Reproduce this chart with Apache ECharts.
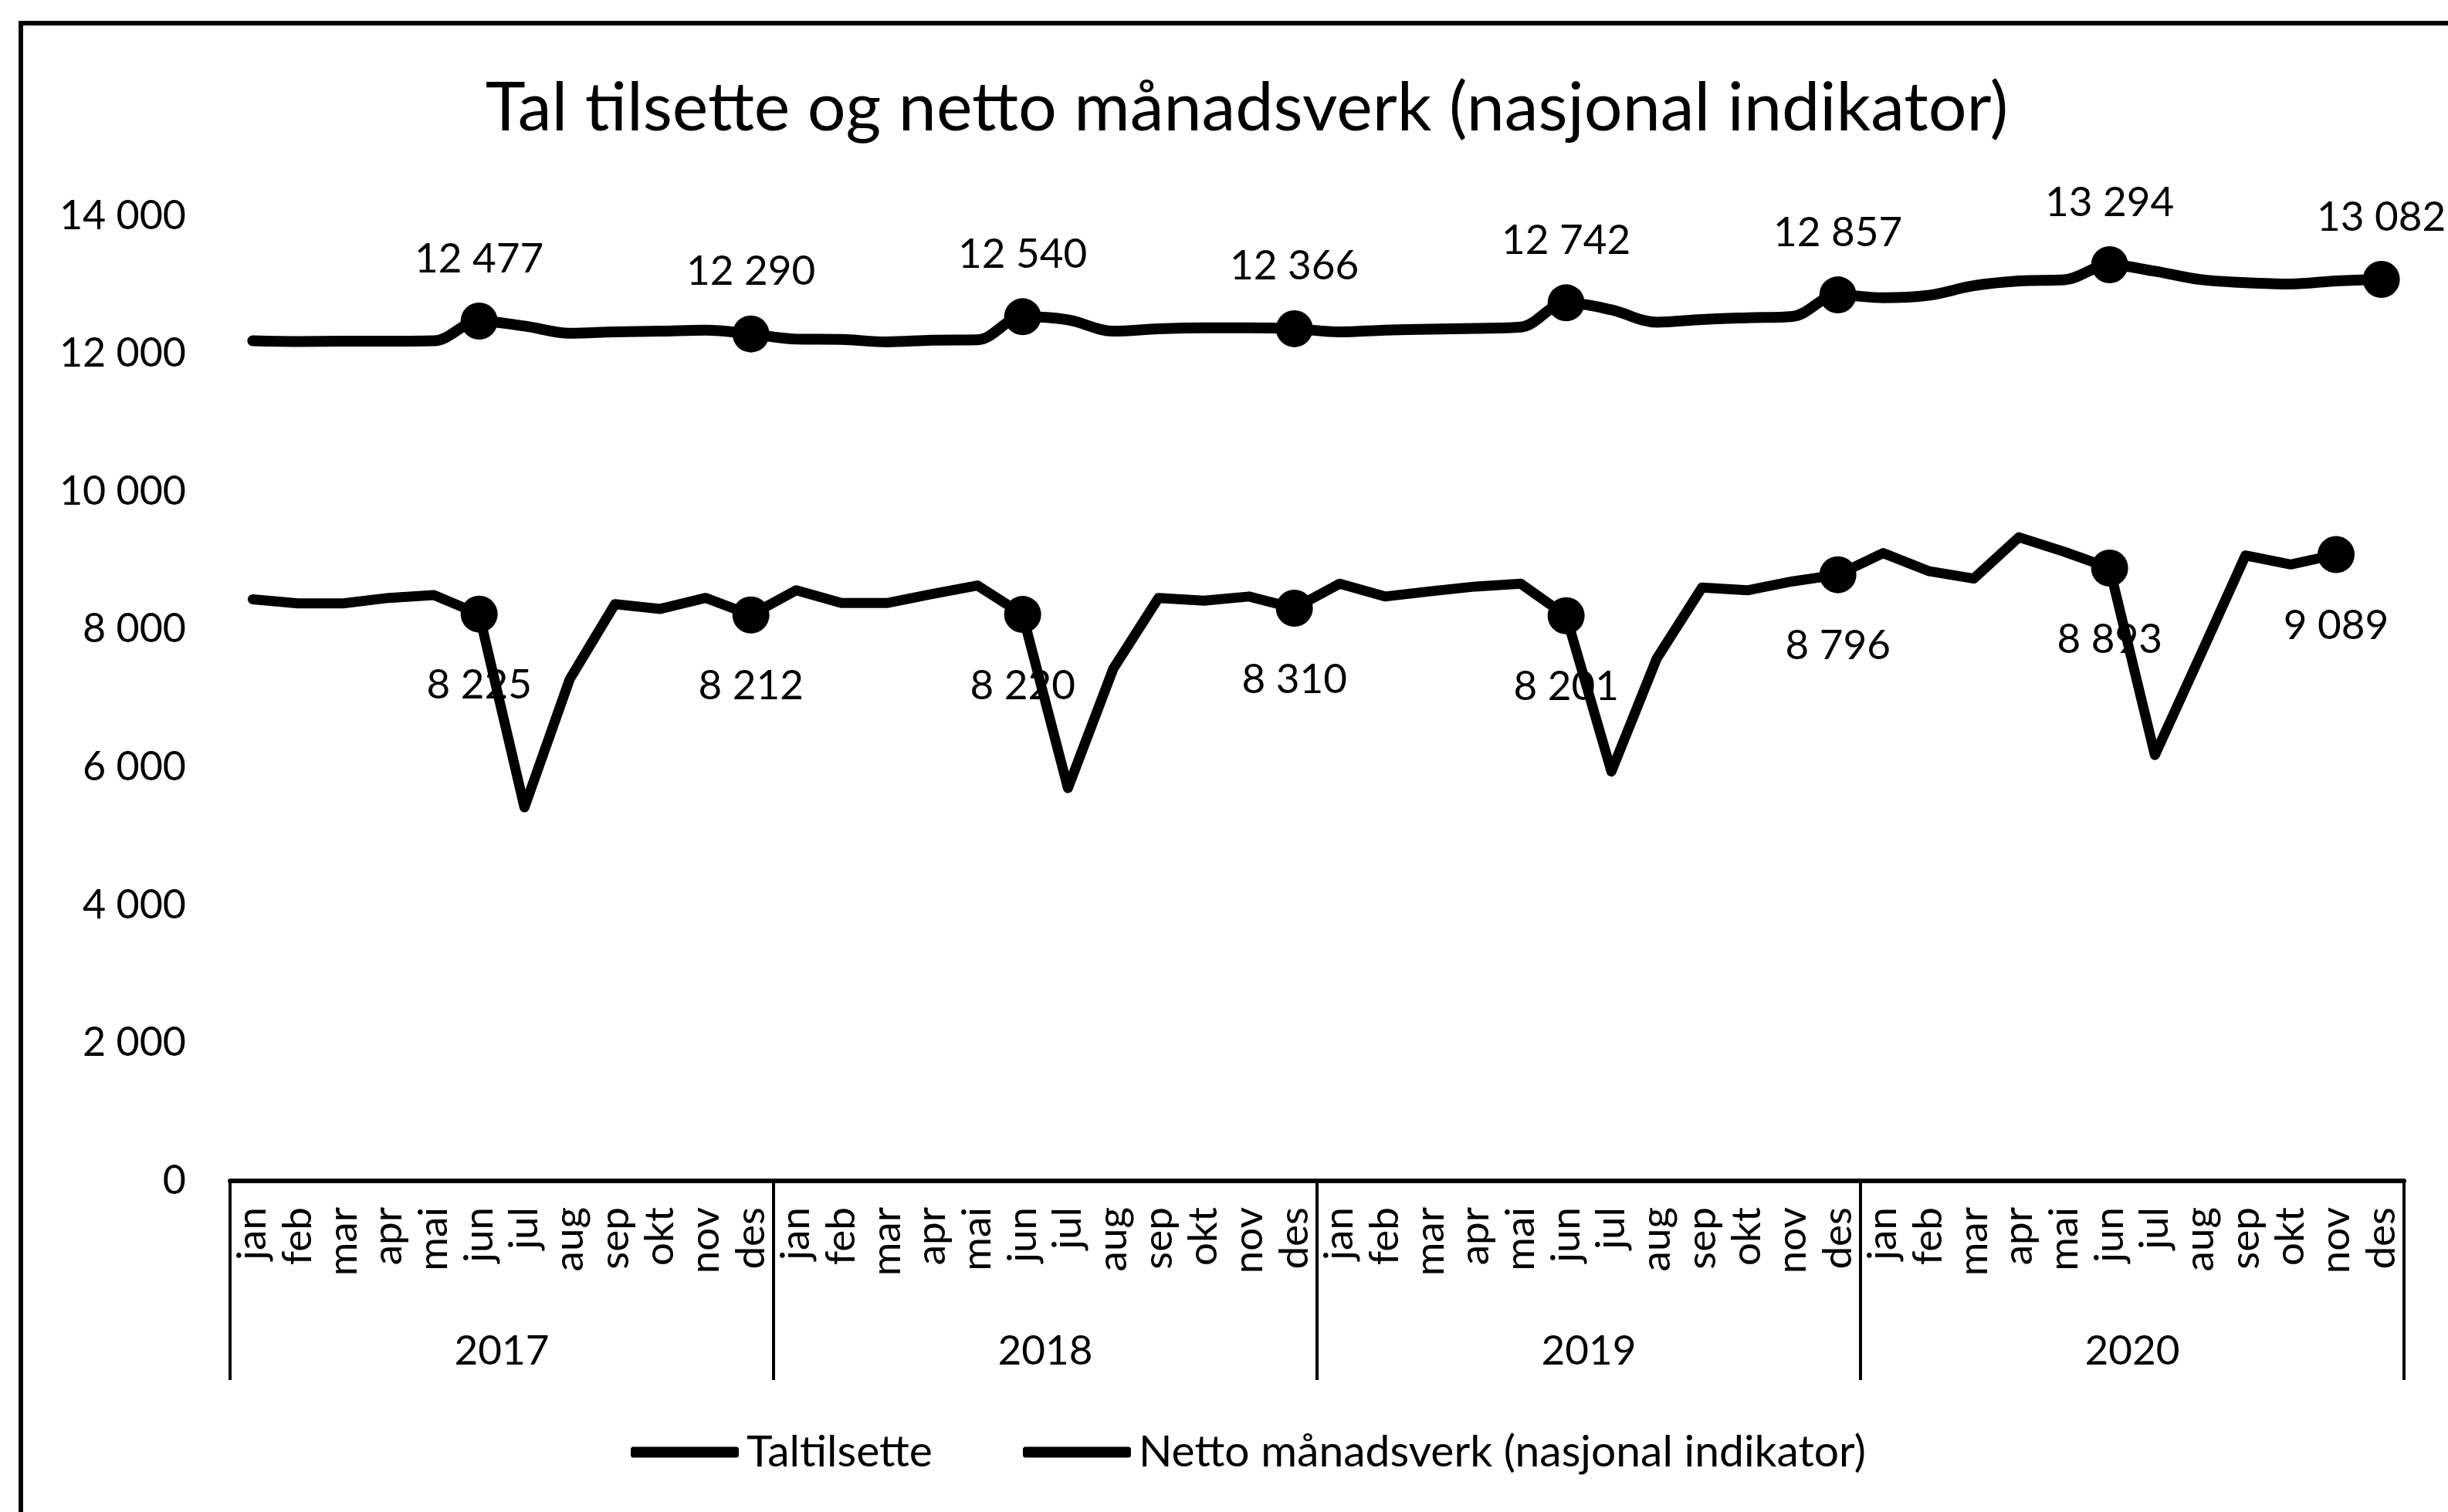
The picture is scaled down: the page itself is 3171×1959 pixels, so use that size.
<!DOCTYPE html>
<html>
<head>
<meta charset="utf-8">
<title>Tal tilsette og netto månadsverk</title>
<script src="https://cdn.jsdelivr.net/npm/echarts@6/dist/echarts.min.js"></script>
<style>
    html, body { margin: 0; padding: 0; background: #fff; }
    #chart { width: 3171px; height: 1959px; }
</style>
</head>
<body>
<div id="chart"></div>
<script>
// Data
const months = ['jan', 'feb', 'mar', 'apr', 'mai', 'jun', 'jul', 'aug', 'sep', 'okt', 'nov', 'des'];
const years = ['2017', '2018', '2019', '2020'];

const taltilsette = [
    12190, 12180, 12185, 12185, 12190, 12477, 12405, 12300, 12320, 12330, 12345, 12290,
    12215, 12210, 12175, 12200, 12205, 12540, 12495, 12330, 12365, 12380, 12380, 12366,
    12320, 12345, 12360, 12370, 12390, 12742, 12640, 12460, 12500, 12525, 12545, 12857,
    12815, 12850, 12990, 13060, 13075, 13294, 13200, 13080, 13035, 13015, 13060, 13082
];
const nettoManadsverk = [
    8440, 8380, 8380, 8460, 8500, 8225, 5420, 7280, 8370, 8300, 8460, 8212,
    8570, 8385, 8385, 8515, 8640, 8220, 5700, 7430, 8460, 8420, 8480, 8310,
    8665, 8480, 8555, 8625, 8665, 8201, 5940, 7580, 8610, 8570, 8700, 8796,
    9110, 8850, 8740, 9340, 9130, 8893, 6180, 7620, 9075, 8945, 9089, null
];
// months that carry a marker and a value label
const markTal = [5, 11, 17, 23, 29, 35, 41, 47];
const markNetto = [5, 11, 17, 23, 29, 35, 41, 46];

const yTicks = [0, 2000, 4000, 6000, 8000, 10000, 12000, 14000];

const FONT = 'Lato, "Open Sans", sans-serif';

// tusenskilje med mellomrom
function fmt(v) {
    return String(v).replace(/\B(?=(\d{3})+(?!\d))/g, ' ');
}

function buildData(values, marks) {
    return values.map((v, i) => marks.includes(i)
        ? { value: v, symbol: 'circle', label: { show: true } }
        : { value: v, symbol: 'none' });
}

const categories = [];
years.forEach(() => months.forEach(m => categories.push(m)));

const chart = echarts.init(document.getElementById('chart'));
const option = {
    animation: false,
    backgroundColor: '#fff',
    textStyle: { fontFamily: FONT, color: '#000' },
    title: {
        text: 'Tal tilsette og netto månadsverk (nasjonal indikator)',
        left: 1610,
        textAlign: 'center',
        top: 92,
        textStyle: { fontFamily: FONT, fontSize: 88, fontWeight: 'normal', color: '#000' }
    },
    graphic: [{
        type: 'rect',
        shape: { x: 27, y: 30, width: 3300, height: 2100 },
        style: { fill: 'none', stroke: '#000', lineWidth: 6 },
        z: 10
    }],
    legend: {
        left: 812,
        top: 1848,
        itemWidth: 140,
        itemHeight: 14,
        itemGap: 117,
        icon: 'roundRect',
        textStyle: { fontFamily: FONT, fontSize: 57, color: '#000', padding: [0, 0, 0, 5] },
        data: ['Taltilsette', 'Netto månadsverk (nasjonal indikator)']
    },
    grid: { left: 298, right: 57, top: 280, bottom: 429, containLabel: false },
    xAxis: [
        {
            type: 'category',
            data: categories,
            position: 'bottom',
            axisLine: { show: true, lineStyle: { color: '#000', width: 6 } },
            axisTick: { show: false },
            axisLabel: {
                interval: 0,
                rotate: 90,
                margin: 34,
                fontFamily: FONT,
                fontSize: 53,
                color: '#000'
            }
        },
        {
            type: 'category',
            data: years,
            position: 'bottom',
            axisLine: { show: false },
            axisTick: { show: true, interval: 0, length: 258, lineStyle: { color: '#000', width: 4 } },
            axisLabel: {
                interval: 0,
                margin: 194,
                fontFamily: FONT,
                fontSize: 53,
                color: '#000'
            },
            splitLine: { show: false }
        }
    ],
    yAxis: {
        type: 'value',
        min: yTicks[0],
        max: yTicks[yTicks.length - 1],
        interval: 2000,
        axisLine: { show: false },
        axisTick: { show: false },
        splitLine: { show: false },
        axisLabel: {
            margin: 57,
            fontFamily: FONT,
            fontSize: 52,
            color: '#000',
            formatter: v => fmt(v)
        }
    },
    series: [
        {
            name: 'Taltilsette',
            type: 'line',
            smooth: 0.35,
            showAllSymbol: true,
            symbolSize: 48,
            lineStyle: { color: '#000', width: 14, cap: 'round', join: 'round' },
            itemStyle: { color: '#000' },
            label: {
                position: 'top',
                distance: 30,
                fontFamily: FONT,
                fontSize: 53,
                color: '#000',
                formatter: p => fmt(p.value)
            },
            data: buildData(taltilsette, markTal)
        },
        {
            name: 'Netto månadsverk (nasjonal indikator)',
            type: 'line',
            showAllSymbol: true,
            symbolSize: 48,
            lineStyle: { color: '#000', width: 13, cap: 'round', join: 'round' },
            itemStyle: { color: '#000' },
            label: {
                position: 'bottom',
                distance: 42,
                fontFamily: FONT,
                fontSize: 53,
                color: '#000',
                formatter: p => fmt(p.value)
            },
            data: buildData(nettoManadsverk, markNetto)
        }
    ]
};
chart.setOption(option);
window.addEventListener('resize', () => chart.resize());
</script>
</body>
</html>
